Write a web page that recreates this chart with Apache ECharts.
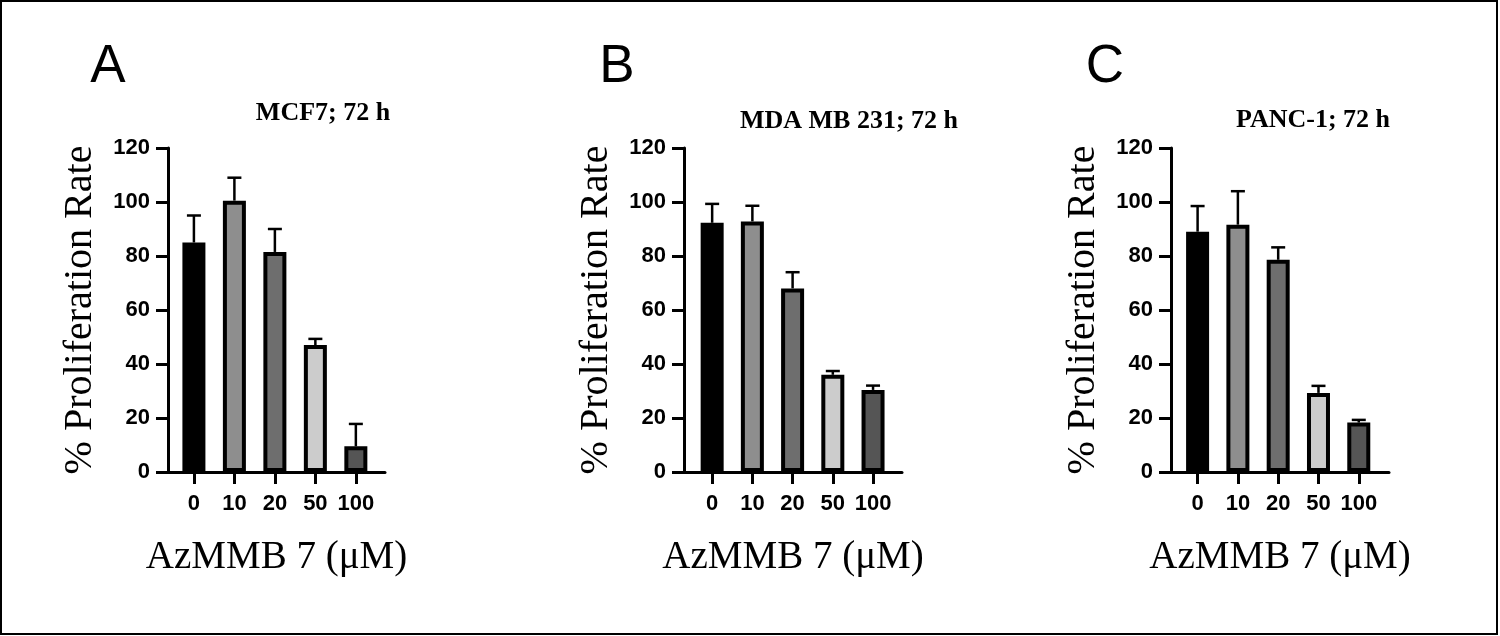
<!DOCTYPE html>
<html><head><meta charset="utf-8">
<script src="https://cdn.jsdelivr.net/npm/echarts@6/dist/echarts.min.js"></script>
<style>html,body{margin:0;padding:0;background:#fff}#c{width:1500px;height:636px}</style>
</head><body><div id="c"></div>
<script>
const categories = ['0', '10', '20', '50', '100'];
const mcf7Mean  = [85, 100.5, 81.5, 47, 9.5];
const mcf7Upper = [95, 109, 90, 49.3, 17.8];
const mdaMean   = [92.3, 92.8, 68, 36, 30.4];
const mdaUpper  = [99.3, 98.6, 74, 37.4, 32];
const pancMean  = [89, 91.6, 78.6, 29.3, 18.3];
const pancUpper = [98.5, 104, 83.2, 31.9, 19.3];
const barColors = ['#000000', '#8e8e8e', '#6e6e6e', '#cccccc', '#555555'];
const panelLetters = ['A', 'B', 'C'];
const panelTitles = ['MCF7; 72 h', 'MDA MB 231; 72 h', 'PANC-1; 72 h'];
const yName = '% Proliferation Rate';
const xName = 'AzMMB 7 (\u03bcM)';

const panels = [
  {mean: mcf7Mean, upper: mcf7Upper, left: 168, width: 217, min: -0.64, max: 4.72, letterX: 103, titleX: 318, titleY: 95},
  {mean: mdaMean, upper: mdaUpper, left: 684, width: 218, min: -0.70, max: 4.72, letterX: 612, titleX: 844, titleY: 103},
  {mean: pancMean, upper: pancUpper, left: 1171, width: 218, min: -0.66, max: 4.75, letterX: 1100, titleX: 1308, titleY: 102}
];

const chart = echarts.init(document.getElementById('c'), null, {renderer: 'canvas'});
const grid = [], xAxis = [], yAxis = [], series = [], title = [];
panels.forEach((p, k) => {
  grid.push({left: p.left, top: 148, width: p.width, height: 324, containLabel: false});
  xAxis.push({
    type: 'value', gridIndex: k, min: p.min, max: p.max,
    splitLine: {show: false},
    axisLine: {show: true, onZero: false, lineStyle: {color: '#000', width: 3}},
    axisTick: {show: true, length: 12, lineStyle: {color: '#000', width: 3}, customValues: [0, 1, 2, 3, 4]},
    axisLabel: {customValues: [0, 1, 2, 3, 4], formatter: v => categories[Math.round(v)],
      margin: 21, color: '#000', fontFamily: 'Liberation Sans', fontWeight: 'bold', fontSize: 22},
    name: xName, nameLocation: 'middle', nameGap: 66,
    nameTextStyle: {fontFamily: 'Liberation Serif', fontSize: 39, color: '#000'}
  });
  yAxis.push({
    type: 'value', gridIndex: k, min: 0, max: 120, interval: 20,
    splitLine: {show: false},
    axisLine: {show: true, onZero: false, lineStyle: {color: '#000', width: 3}},
    axisTick: {show: true, length: 12, lineStyle: {color: '#000', width: 3}},
    axisLabel: {margin: 18, color: '#000', fontFamily: 'Liberation Sans', fontWeight: 'bold', fontSize: 22},
    name: yName, nameLocation: 'middle', nameRotate: 90, nameGap: 68,
    nameTextStyle: {fontFamily: 'Liberation Serif', fontSize: 40, color: '#000'}
  });
  series.push({
    type: 'bar', xAxisIndex: k, yAxisIndex: k, barWidth: 23, z: 2,
    data: p.mean.map((v, i) => ({value: [i, v], itemStyle: {color: barColors[i]}})),
    itemStyle: {borderColor: '#000', borderWidth: 4}
  });
  series.push({
    type: 'custom', xAxisIndex: k, yAxisIndex: k, z: 1,
    data: p.mean.map((v, i) => [i, v, p.upper[i]]),
    renderItem: (params, api) => {
      const b = api.coord([api.value(0), api.value(1)]);
      const t = api.coord([api.value(0), api.value(2)]);
      const hw = 7;
      return {type: 'group', children: [
        {type: 'line', shape: {x1: b[0], y1: b[1], x2: t[0], y2: t[1]}, style: {stroke: '#000', lineWidth: 2.5}},
        {type: 'line', shape: {x1: t[0] - hw, y1: t[1], x2: t[0] + hw, y2: t[1]}, style: {stroke: '#000', lineWidth: 2.5}}
      ]};
    }
  });
  title.push({text: panelLetters[k], left: p.letterX, top: 36, textAlign: 'center',
    textStyle: {fontFamily: 'Liberation Sans', fontWeight: 'normal', fontSize: 53, color: '#000'}});
  title.push({text: panelTitles[k], left: p.titleX, top: p.titleY, textAlign: 'center',
    textStyle: {fontFamily: 'Liberation Serif', fontWeight: 'bold', fontSize: 26, color: '#000'}});
});

chart.setOption({
  animation: false,
  backgroundColor: '#fff',
  title, grid, xAxis, yAxis, series,
  graphic: [{type: 'rect', shape: {x: 1, y: 1, width: 1496, height: 633}, style: {fill: 'none', stroke: '#000', lineWidth: 2}, silent: true}]
});
</script></body></html>
